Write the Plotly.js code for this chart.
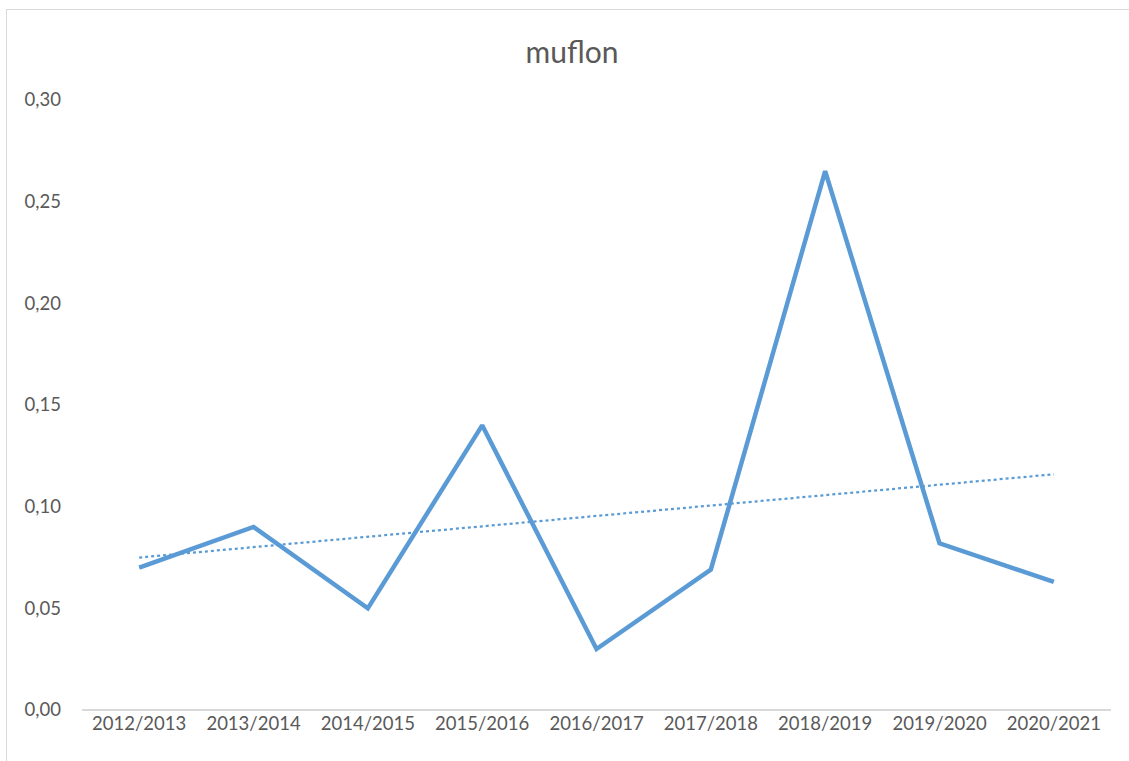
<!DOCTYPE html>
<html>
<head>
<meta charset="utf-8">
<script src="https://cdn.plot.ly/plotly-3.0.1.min.js"></script>
<style>
  html, body { margin: 0; padding: 0; background: #ffffff; overflow: hidden; }
  #chart { position: absolute; left: 0; top: 0; width: 1129px; height: 761px; }
  #frame { position: absolute; left: 6px; top: 9px; width: 1200px; height: 800px;
           border: 1.5px solid #d9d9d9; pointer-events: none; box-sizing: border-box; }
</style>
</head>
<body>
<div id="chart"></div>
<div id="frame"></div>
<script>
const categories = ["2012/2013","2013/2014","2014/2015","2015/2016","2016/2017","2017/2018","2018/2019","2019/2020","2020/2021"];
const values = [0.070, 0.090, 0.050, 0.140, 0.030, 0.069, 0.265, 0.082, 0.063];
const yTicks = [0, 0.05, 0.10, 0.15, 0.20, 0.25, 0.30];
const yTickLabels = ["0,00","0,05","0,10","0,15","0,20","0,25","0,30"];
const chartTitle = "muflon";

// linear trendline (least squares over category index)
const n = values.length;
const xs = values.map((_, i) => i + 1);
const mx = xs.reduce((a, b) => a + b, 0) / n;
const my = values.reduce((a, b) => a + b, 0) / n;
let sxy = 0, sxx = 0;
for (let i = 0; i < n; i++) { sxy += (xs[i] - mx) * (values[i] - my); sxx += (xs[i] - mx) * (xs[i] - mx); }
const slope = sxy / sxx;
const intercept = my - slope * mx;
const trend = xs.map(x => intercept + slope * x);

const font = "Lato, 'Open Sans', sans-serif";

const traces = [
  {
    x: categories, y: trend, type: "scatter", mode: "lines",
    line: { color: "#5B9BD5", width: 2.25, dash: "dot" },
    hoverinfo: "skip", showlegend: false
  },
  {
    x: categories, y: values, type: "scatter", mode: "lines",
    line: { color: "#5B9BD5", width: 4.5 },
    showlegend: false
  }
];

const layout = {
  width: 1129, height: 761,
  paper_bgcolor: "rgba(0,0,0,0)", plot_bgcolor: "rgba(0,0,0,0)",
  margin: { l: 82, r: 18, t: 100, b: 51 },
  title: {
    text: chartTitle, x: 572 / 1129, xanchor: "center", xref: "container",
    y: 1 - 52 / 761, yanchor: "middle", yref: "container",
    font: { family: font, size: 30, color: "#595959" }
  },
  xaxis: {
    type: "category", showgrid: false, zeroline: false,
    showline: false, ticks: "",
    tickfont: { family: font, size: 18.5, color: "#595959" },
    range: [-0.5, categories.length - 0.5], fixedrange: true
  },
  yaxis: {
    range: [0, 0.30], tickvals: yTicks, ticktext: yTickLabels,
    showgrid: false, zeroline: true, zerolinecolor: "#d9d9d9", zerolinewidth: 1.5,
    showline: false, ticks: "", ticklabelstandoff: 20,
    tickfont: { family: font, size: 18.5, color: "#595959" }, fixedrange: true
  },
  showlegend: false
};

Plotly.newPlot("chart", traces, layout, { displayModeBar: false, staticPlot: true });
</script>
</body>
</html>
